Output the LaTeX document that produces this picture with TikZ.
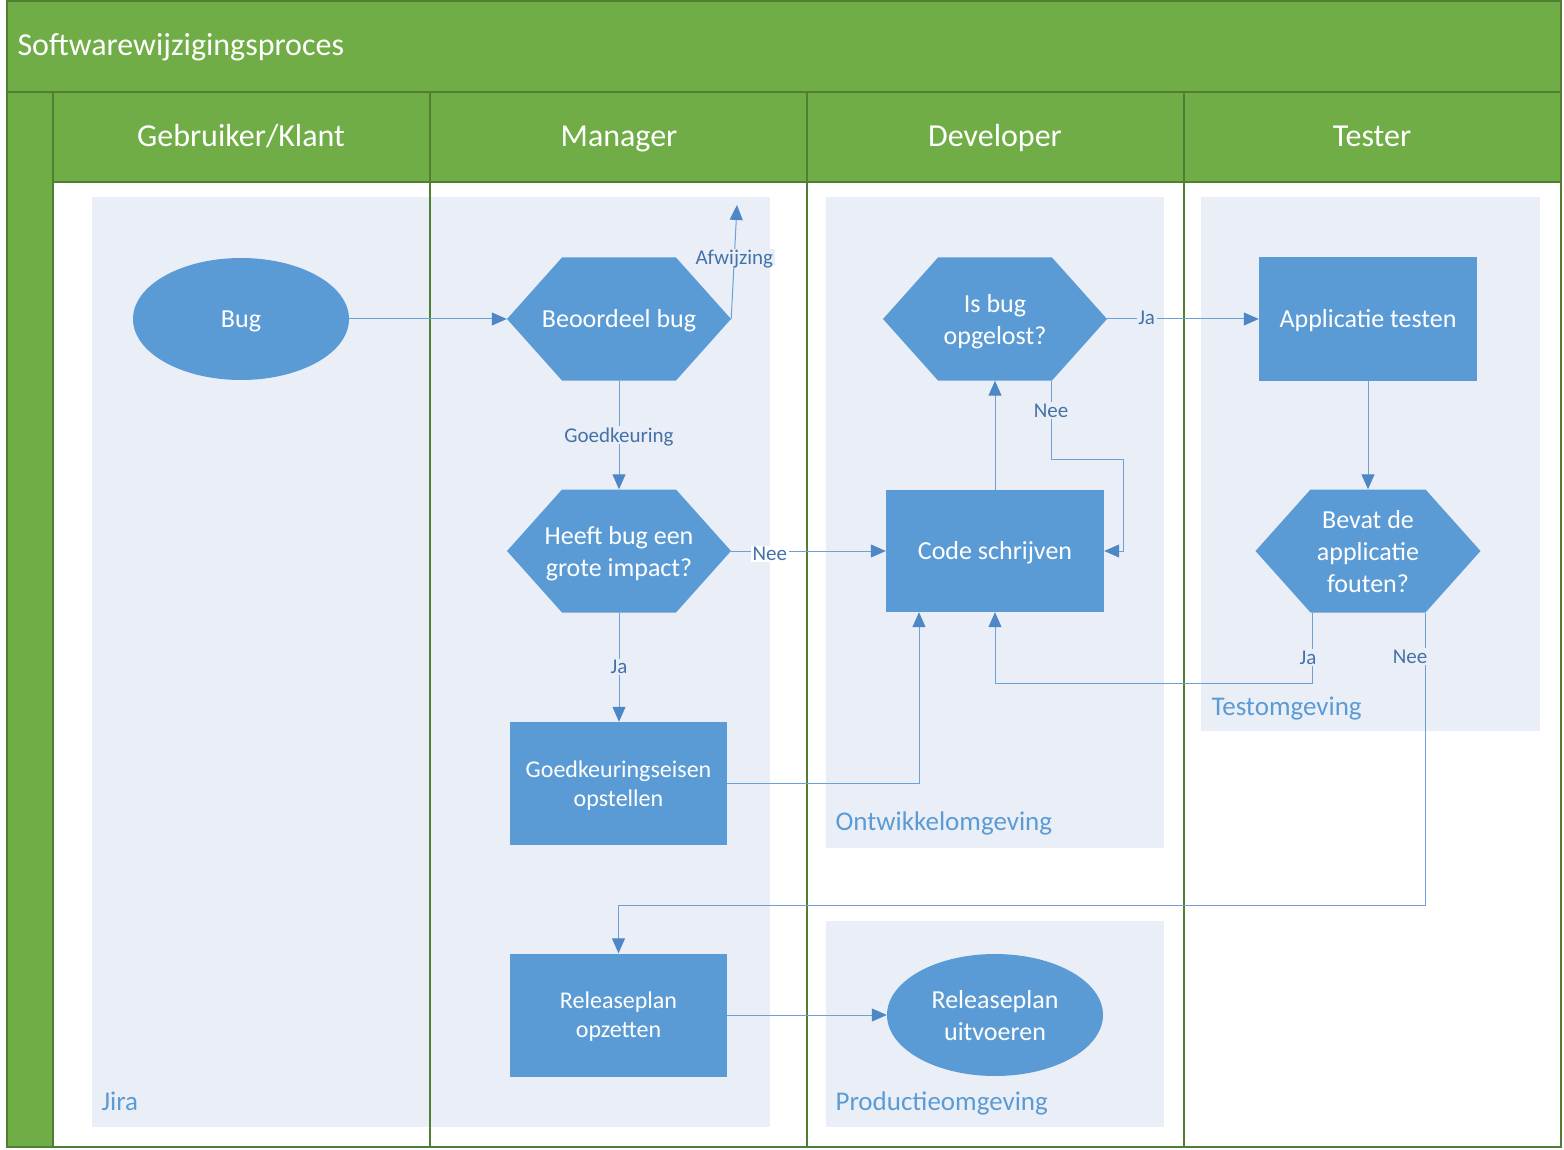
\documentclass[tikz,border=0pt]{standalone}
\usepackage{fontspec}
\setmainfont{Carlito}
\usetikzlibrary{shapes.geometric,arrows.meta}
\definecolor{gfill}{RGB}{112,173,71}
\definecolor{gline}{RGB}{80,126,50}
\definecolor{nblue}{RGB}{91,155,213}
\definecolor{cblue}{RGB}{234,239,247}
\definecolor{lblue}{RGB}{108,160,214}
\definecolor{ablue}{RGB}{78,135,198}
\definecolor{tblue}{RGB}{68,114,168}
\newcommand\fbig{\fontsize{32}{38}\selectfont}
\newcommand\fnode{\fontsize{26}{32}\selectfont}
\newcommand\fcont{\fontsize{27}{32}\selectfont}
\newcommand\fsm{\fontsize{24}{29}\selectfont}
\newcommand\flab{\fontsize{21}{25}\selectfont}
\tikzset{
  hexa/.style={rectangle, minimum width=224pt, minimum height=123pt, inner sep=0pt, text=white, align=center, font=\fnode, text depth=0pt,
    path picture={\fill[nblue] (path picture bounding box.west) -- ([xshift=55pt]path picture bounding box.north west) -- ([xshift=-55pt]path picture bounding box.north east) -- (path picture bounding box.east) -- ([xshift=-55pt]path picture bounding box.south east) -- ([xshift=55pt]path picture bounding box.south west) -- cycle;}},
  procbox/.style={rectangle, fill=nblue, minimum width=217pt, minimum height=123pt, inner sep=0pt, text=white, align=center, font=\fsm, text depth=0pt},
  termin/.style={ellipse, fill=nblue, minimum width=216pt, minimum height=122pt, inner sep=0pt, text=white, align=center, font=\fnode, text depth=0pt},
  oneline/.style={text height=17.4pt, text depth=0pt},
  conn/.style={draw=lblue, line width=1pt, -{Triangle[length=15pt,width=13pt,fill=ablue,color=ablue]}},
  lab/.style={font=\flab, text=tblue, fill=cblue, inner sep=1.5pt, text depth=0pt},
  cont/.style={fill=cblue},
  contlab/.style={font=\fcont, text=nblue, anchor=west, text depth=0pt},
  lanehd/.style={font=\fbig, text=white, text height=19pt, text depth=0pt},
}
\begin{document}
\begin{tikzpicture}[x=1pt,y=-1pt]
\useasboundingbox (0,0) rectangle (1564,1150);
\fill[white] (0,0) rectangle (1564,1150);
% frame
\fill[gfill] (7,1) rectangle (1561,92);
\fill[gfill] (7,92) rectangle (53,1147);
\foreach \i in {0,1,2,3} {
  \fill[gfill] ({53+377*\i},92) rectangle ({53+377*(\i+1)},182);
}
\draw[gline, line width=1.2pt] (53,182) -- (1561,182);
\draw[gline, line width=1.2pt] (7,92) -- (1561,92);
\draw[gline, line width=1.2pt] (53,92) -- (53,1147);
% containers
\fill[cont] (92,197) rectangle (770,1127);
\fill[cont] (826,197) rectangle (1164,848);
\fill[cont] (826,921) rectangle (1164,1127);
\fill[cont] (1201,197) rectangle (1540,731);
% separators
\foreach \x in {430,807,1184} {
  \draw[gline, line width=1.2pt] (\x,92) -- (\x,1147);
}
\draw[gline, line width=2pt] (7,1) rectangle (1561,1147);
% texts
\node[anchor=west, font=\fbig, text=white, text height=19pt, text depth=0pt] (title) at (14,46) {Softwarewijzigingsproces};
\node[lanehd] (hd1) at (241,137) {Gebruiker/Klant};
\node[lanehd] (hd2) at (619,137) {Manager};
\node[lanehd] (hd3) at (995,137) {Developer};
\node[lanehd] (hd4) at (1372,137) {Tester};
\node[contlab] (c1) at (98,1101) {Jira};
\node[contlab] (c2) at (832,821) {Ontwikkelomgeving};
\node[contlab] (c3) at (832,1101) {Productieomgeving};
\node[contlab] (c4) at (1208,706) {Testomgeving};
% nodes
\node[termin, oneline] (bug) at (241,319) {Bug};
\node[hexa, oneline] (beo) at (619,319) {Beoordeel bug};
\node[hexa] (imp) at (619,551) {Heeft bug een\\grote impact?};
\node[procbox] (goed) at (618.5,783.5) {Goedkeuringseisen\\opstellen};
\node[procbox] (rel) at (618.5,1015) {Releaseplan\\opzetten};
\node[hexa] (isb) at (995,319) {Is bug\\opgelost?};
\node[procbox, font=\fnode, oneline, minimum width=218pt, minimum height=122pt] (code) at (995,551) {Code schrijven};
\node[termin] (uit) at (995,1015) {Releaseplan\\uitvoeren};
\node[procbox, font=\fnode, oneline, minimum width=218pt] (app) at (1368,319) {Applicatie testen};
\node[hexa, minimum width=225pt] (bev) at (1368,551) {Bevat de\\applicatie\\fouten?};
\coordinate (rej) at (737,205);
% connectors
\draw[conn] (bug.east) -- (beo.west);
\draw[conn] (beo.east) -- node[lab, pos=0.54] {Afwijzing} (rej);
\draw[conn] (beo.south) -- node[lab] {Goedkeuring} (imp.north);
\draw[conn] (imp.east) -- node[lab, fill=white, pos=0.25, yshift=-3pt] {Nee} (code.west);
\draw[conn] (imp.south) -- node[lab] {Ja} (imp.south |- goed.north);
\draw[conn] (goed.east) -| ([xshift=-76pt]code.south);
\draw[conn] (code.north) -- (isb.south);
\draw[conn] ([xshift=56pt]isb.south) -- node[lab, pos=0.38] {Nee} ++(0,79) -| ([xshift=19pt]code.east) -- (code.east);
\draw[conn] (isb.east) -- node[lab, pos=0.26, yshift=1pt] {Ja} (app.west);
\draw[conn] (app.south) -- (bev.north);
\draw[conn] ([xshift=-56pt]bev.south) -- node[lab, pos=0.63, xshift=-4pt] {Ja} ++(0,71) -| (code.south);
\draw[conn] ([xshift=57pt]bev.south) -- node[lab, pos=0.15, xshift=-15pt] {Nee} ++(0,293) -| (rel.north);
\draw[conn] (rel.east) -- (uit.west);
\end{tikzpicture}
\end{document}
